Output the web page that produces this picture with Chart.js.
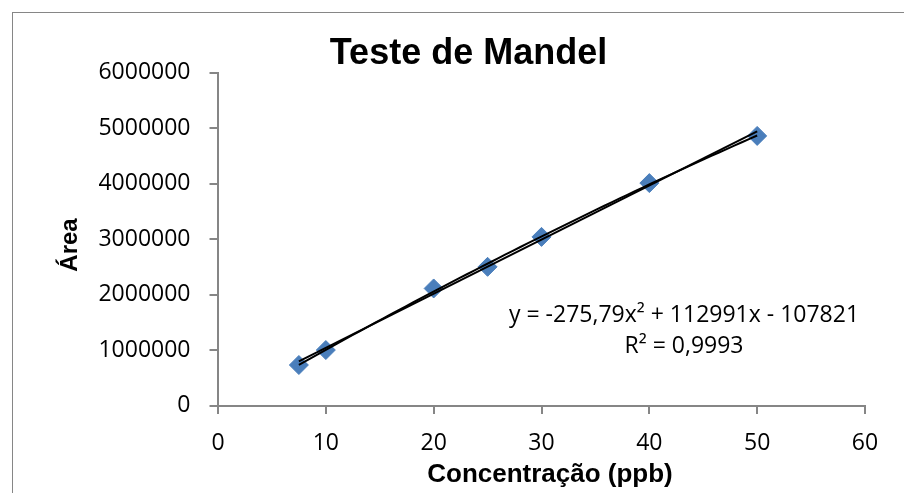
<!DOCTYPE html>
<html>
<head>
<meta charset="utf-8">
<script src="https://cdn.jsdelivr.net/npm/chart.js@4.4.1/dist/chart.umd.min.js"></script>
<style>
  html, body { margin: 0; padding: 0; background: #fff; overflow: hidden; }
  #box { position: absolute; left: 12px; top: 12px; width: 912px; height: 500px; border: 1px solid #868686; }
  #chart { display: block; }
</style>
</head>
<body>
<div id="box"><canvas id="chart" width="912" height="500"></canvas></div>
<script>
// dados
var concentracao = [7.5, 10, 20, 25, 30, 40, 50];
var area = [730000, 1000000, 2110000, 2500000, 3040000, 4010000, 4860000];

var xTicks = [0, 10, 20, 30, 40, 50, 60];
var yTicks = [0, 1000000, 2000000, 3000000, 4000000, 5000000, 6000000];

var titulo = 'Teste de Mandel';
var tituloX = 'Concentração (ppb)';
var tituloY = 'Área';
var equacao = 'y = -275,79x² + 112991x - 107821';
var r2Texto = 'R² = 0,9993';

(function () {
    // linhas de tendencia (minimos quadrados)
    function ajusteLinear(xs, ys) {
        var n = xs.length, sx = 0, sy = 0, sxx = 0, sxy = 0;
        for (var i = 0; i < n; i++) {
            sx += xs[i]; sy += ys[i]; sxx += xs[i] * xs[i]; sxy += xs[i] * ys[i];
        }
        var b = (n * sxy - sx * sy) / (n * sxx - sx * sx);
        return [sy / n - b * sx / n, b];
    }

    function ajusteQuadratico(xs, ys) {
        var s = [0, 0, 0, 0, 0], t = [0, 0, 0];
        for (var i = 0; i < xs.length; i++) {
            for (var k = 0; k < 5; k++) s[k] += Math.pow(xs[i], k);
            for (var j = 0; j < 3; j++) t[j] += ys[i] * Math.pow(xs[i], j);
        }
        var m = [
            [s[0], s[1], s[2], t[0]],
            [s[1], s[2], s[3], t[1]],
            [s[2], s[3], s[4], t[2]]
        ];
        for (var c = 0; c < 3; c++) {
            for (var r = c + 1; r < 3; r++) {
                var f = m[r][c] / m[c][c];
                for (var q = c; q < 4; q++) m[r][q] -= f * m[c][q];
            }
        }
        var coef = [0, 0, 0];
        for (var r2 = 2; r2 >= 0; r2--) {
            var soma = m[r2][3];
            for (var q2 = r2 + 1; q2 < 3; q2++) soma -= m[r2][q2] * coef[q2];
            coef[r2] = soma / m[r2][r2];
        }
        return coef;
    }

    var lin = ajusteLinear(concentracao, area);
    var quad = ajusteQuadratico(concentracao, area);
    var x0 = concentracao[0], x1 = concentracao[concentracao.length - 1];

    var linhaLinear = [
        { x: x0, y: lin[0] + lin[1] * x0 },
        { x: x1, y: lin[0] + lin[1] * x1 }
    ];
    var linhaPoli = [];
    for (var i = 0; i <= 60; i++) {
        var x = x0 + (x1 - x0) * i / 60;
        linhaPoli.push({ x: x, y: quad[0] + quad[1] * x + quad[2] * x * x });
    }

    var pontos = concentracao.map(function (c, i) { return { x: c, y: area[i] }; });

    var textos = {
        id: 'textos',
        afterDraw: function (chart) {
            var ctx = chart.ctx;
            ctx.save();
            ctx.fillStyle = '#000';
            ctx.textAlign = 'center';
            ctx.textBaseline = 'alphabetic';
            ctx.font = 'bold 36px "Liberation Sans", Arial, sans-serif';
            ctx.fillText(titulo, 455.5, 51);
            ctx.font = 'bold 26px "Liberation Sans", Arial, sans-serif';
            ctx.fillText(tituloX, 537, 469);
            ctx.save();
            ctx.translate(64, 232);
            ctx.rotate(-Math.PI / 2);
            ctx.font = 'bold 24px "Liberation Sans", Arial, sans-serif';
            ctx.fillText(tituloY, 0, 0);
            ctx.restore();
            ctx.font = '23px "Open Sans", sans-serif';
            ctx.fillText(equacao, 671, 308.7);
            ctx.fillText(r2Texto, 671, 340.3);
            ctx.restore();
        }
    };

    var tickFont = { family: '"Open Sans", sans-serif', size: 23 };
    var cinza = '#868686';

    var ctx = document.getElementById('chart').getContext('2d');
    new Chart(ctx, {
        type: 'scatter',
        data: {
            datasets: [
                {
                    label: 'Linear',
                    data: linhaLinear,
                    showLine: true,
                    borderColor: '#000',
                    borderWidth: 2,
                    pointRadius: 0,
                    order: 0
                },
                {
                    label: 'Polinomial',
                    data: linhaPoli,
                    showLine: true,
                    borderColor: '#000',
                    borderWidth: 2,
                    pointRadius: 0,
                    order: 0
                },
                {
                    label: 'Área',
                    data: pontos,
                    pointStyle: 'rectRot',
                    pointRadius: 9.5,
                    backgroundColor: '#4a7ebb',
                    borderColor: '#4a7ebb',
                    borderWidth: 1,
                    order: 1
                }
            ]
        },
        options: {
            responsive: false,
            animation: false,
            layout: { padding: { top: 59.7, right: 60, left: 0, bottom: 0 } },
            plugins: {
                legend: { display: false },
                tooltip: { enabled: false },
                title: { display: false }
            },
            scales: {
                x: {
                    type: 'linear',
                    min: xTicks[0],
                    max: xTicks[xTicks.length - 1],
                    ticks: {
                        stepSize: xTicks[1] - xTicks[0],
                        padding: 16,
                        color: '#000',
                        font: tickFont
                    },
                    grid: { drawOnChartArea: false, tickLength: 8.5, color: cinza, lineWidth: 2 },
                    border: { color: cinza, width: 2 },
                    afterFit: function (s) { s.height = 107.5; }
                },
                y: {
                    type: 'linear',
                    min: yTicks[0],
                    max: yTicks[yTicks.length - 1],
                    ticks: {
                        stepSize: yTicks[1] - yTicks[0],
                        padding: 19,
                        color: '#000',
                        font: tickFont,
                        callback: function (v) { return String(v); }
                    },
                    grid: { drawOnChartArea: false, tickLength: 8.5, color: cinza, lineWidth: 2 },
                    border: { color: cinza, width: 2 },
                    afterFit: function (s) { s.width = 205; }
                }
            }
        },
        plugins: [textos]
    });
})();
</script>
</body>
</html>
